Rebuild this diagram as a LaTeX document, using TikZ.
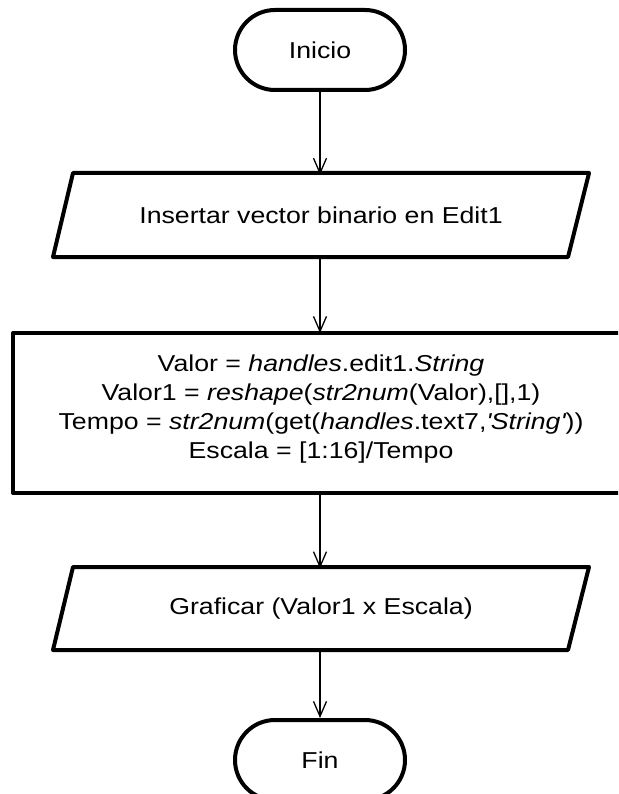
\documentclass[tikz,border=0pt]{standalone}
\usepackage{fontspec}
\setmainfont{Liberation Sans}[FakeStretch=1.16]
\usetikzlibrary{arrows.meta}
\begin{document}
\begin{tikzpicture}[x=1pt,y=-1pt,
  shape line/.style={line width=4pt, line join=round},
  terminal/.style={shape line, draw, rectangle, rounded corners=40pt, minimum width=170pt, minimum height=80pt, inner sep=0pt},
  iobox/.style={rectangle, minimum width=520pt, minimum height=84pt, inner sep=0pt},
  procbox/.style={shape line, draw, rectangle, minimum width=614pt, minimum height=160pt, inner sep=0pt},
  proctext/.style={align=center, inner sep=0pt},
  flow/.style={line width=1.3pt, -{Straight Barb[length=15pt,width=13pt,line width=1.3pt]}},
  every node/.style={font=\fontsize{23}{28.8}\selectfont}
]
\useasboundingbox (0,0) rectangle (618,794);
\begin{scope}
\clip (0,0) rectangle (618,794);
\node[terminal] (inicio) at (320,50) {Inicio};
\node[iobox] (insertar) at (321,215) {Insertar vector binario en Edit1};
\draw[shape line] (73,173) -- (589,173) -- (568,257) -- (53,257) -- cycle;
\node[procbox] (proc) at (320,413) {};
\node[proctext] (proctxt) at (321,409) {Valor = \textit{handles}.edit1.\textit{String}\\
Valor1 = \textit{reshape}(\textit{str2num}(Valor),[],1)\\
Tempo = \textit{str2num}(get(\textit{handles}.text7,\textit{\textquotesingle String\textquotesingle}))\\
Escala = [1:16]/Tempo};
\node[iobox] (graficar) at (321,608.5) {Graficar (Valor1 x Escala)};
\draw[shape line] (73,567) -- (589,567) -- (568,650) -- (53,650) -- cycle;
\node[terminal] (fin) at (320,760) {Fin};
\end{scope}
\draw[flow] (inicio.south) -- ([yshift=-2pt]insertar.north -| inicio.south);
\draw[flow] ([yshift=2pt]insertar.south -| inicio.south) -- ([yshift=-2pt]proc.north -| inicio.south);
\draw[flow] (proc.south -| inicio.south) -- ([yshift=-2pt]graficar.north -| inicio.south);
\draw[flow] ([yshift=2pt]graficar.south -| inicio.south) -- (fin.north);
\end{tikzpicture}
\end{document}
